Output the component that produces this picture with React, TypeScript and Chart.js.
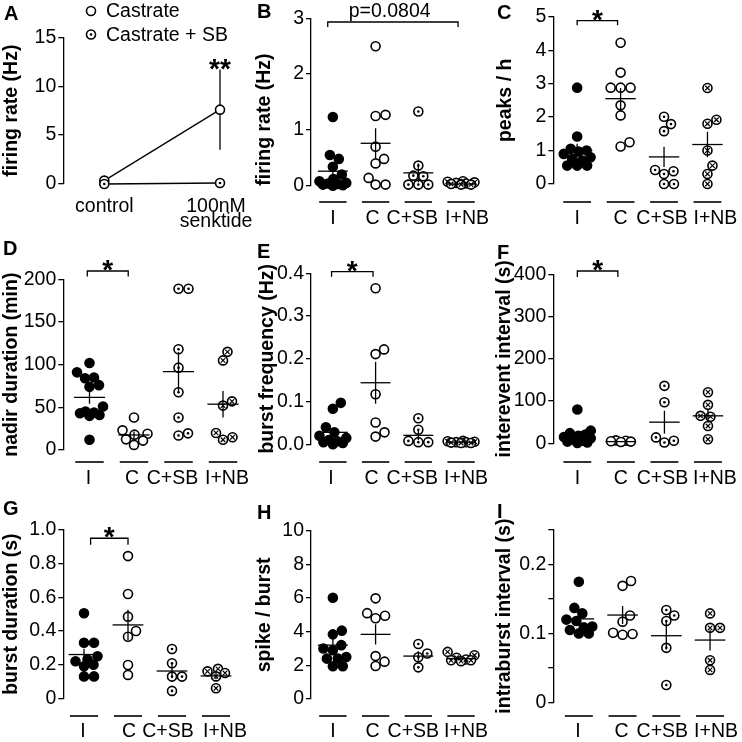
import React, { useEffect, useRef } from "react";
import { Chart, registerables } from "chart.js";

Chart.register(...registerables);

const FONT = "'Liberation Sans', Arial, Helvetica, sans-serif";

// ---------------- Panel A ----------------
const A_CATEGORIES: (string | string[])[] = ["control", ["100nM", "senktide"]];
const A_CASTRATE = [0.35, 7.6];
const A_CASTRATE_SEM = [0, 4.1];
const A_CASTRATE_SB = [0, 0.1];
const A_TICKS = [0, 5, 10, 15];
const A_TICK_LABELS = ["0", "5", "10", "15"];
const A_LEGEND = ["Castrate", "Castrate + SB"];

// ---------------- Groups ----------------
const GROUPS = ["I", "C", "C+SB", "I+NB"];

// B: firing rate (Hz)
const B_I = [1.23, 0.55, 0.48, 0.34, 0.2, 0.12, 0.08, 0.05, 0.04, 0.03, 0.02, 0.01, 0.0];
const B_C = [2.5, 1.27, 1.25, 0.7, 0.48, 0.4, 0.14, 0.02, 0.02];
const B_CSB = [1.33, 0.36, 0.18, 0.17, 0.02, 0.02, 0.02];
const B_INB = [0.08, 0.07, 0.06, 0.05, 0.04, 0.03, 0.02, 0.02];
const B_MEAN = [0.26, 0.76, 0.23, 0.03];
const B_SEM = [0.1, 0.27, 0.17, 0.01];
const B_TICKS = [0, 1, 2, 3];
const B_TICK_LABELS = ["0", "1", "2", "3"];

// C: peaks / h
const C_I = [2.88, 1.42, 1.05, 1.0, 0.97, 0.9, 0.8, 0.75, 0.7, 0.55, 0.55, 0.55];
const C_C = [4.22, 3.33, 2.88, 2.88, 2.88, 2.35, 2.05, 1.25, 1.12];
const C_CSB = [2.01, 1.79, 1.58, 0.42, 0.38, 0.3, 0.0, 0.0];
const C_INB = [2.87, 1.92, 1.8, 1.0, 0.55, 0.3, 0.0];
const C_MEAN = [1.0, 2.55, 0.81, 1.18];
const C_SEM = [0.2, 0.32, 0.3, 0.38];
const C_TICKS = [0, 1, 2, 3, 4, 5];
const C_TICK_LABELS = ["0", "1", "2", "3", "4", "5"];

// D: nadir duration (min)
const D_I = [102, 91, 85, 84, 76, 74, 51, 45, 44, 43, 41, 40, 12];
const D_C = [38, 23, 19, 18, 12.5, 11, 6];
const D_CSB = [189, 189, 118, 96.5, 67.6, 38, 19.5, 17];
const D_INB = [115, 105, 57, 52, 20, 15, 12];
const D_MEAN = [61.7, 17.6, 91.8, 53.7];
const D_SEM = [7.5, 4.2, 23, 15.5];
const D_TICKS = [0, 50, 100, 150, 200];
const D_TICK_LABELS = ["0", "50", "100", "150", "200"];

// E: burst frequency (Hz)
const E_I = [0.097, 0.083, 0.04, 0.028, 0.02, 0.015, 0.01, 0.007, 0.005, 0.003, 0.0];
const E_C = [0.365, 0.222, 0.211, 0.117, 0.051, 0.028, 0.018];
const E_CSB = [0.061, 0.034, 0.008, 0.005, 0.005];
const E_INB = [0.008, 0.007, 0.006, 0.005, 0.005, 0.004, 0.003, 0.003];
const E_MEAN = [0.028, 0.144, 0.021, 0.005];
const E_SEM = [0.01, 0.049, 0.011, 0.001];
const E_TICKS = [0, 0.1, 0.2, 0.3, 0.4];
const E_TICK_LABELS = ["0.0", "0.1", "0.2", "0.3", "0.4"];

// F: interevent interval (s)
const F_I = [80, 30, 24, 21, 18, 15, 12, 9, 6, 4, 2, 1];
const F_C = [7, 6, 5, 4, 3];
const F_CSB = [136, 97, 14, 6, 2];
const F_INB = [121, 91, 65, 63, 41, 9.5];
const F_MEAN = [18, 4, 50, 65];
const F_SEM = [6, 1, 27, 16];
const F_TICKS = [0, 100, 200, 300, 400];
const F_TICK_LABELS = ["0", "100", "200", "300", "400"];

// G: burst duration (s)
const G_I = [0.505, 0.33, 0.33, 0.25, 0.23, 0.22, 0.2, 0.19, 0.13, 0.13];
const G_C = [0.845, 0.62, 0.485, 0.4, 0.366, 0.198, 0.139];
const G_CSB = [0.293, 0.208, 0.129, 0.129, 0.044];
const G_INB = [0.175, 0.16, 0.15, 0.13, 0.06];
const G_MEAN = [0.26, 0.436, 0.162, 0.133];
const G_SEM = [0.035, 0.09, 0.043, 0.02];
const G_TICKS = [0, 0.2, 0.4, 0.6, 0.8, 1.0];
const G_TICK_LABELS = ["0", "0.2", "0.4", "0.6", "0.8", "1.0"];

// H: spike / burst
const H_I = [6.02, 4.06, 3.84, 3.2, 3.0, 2.9, 2.5, 2.4, 2.4, 1.95, 1.95];
const H_C = [5.98, 5.1, 4.95, 4.8, 2.55, 2.22, 1.96];
const H_CSB = [3.27, 2.7, 2.48, 1.88];
const H_INB = [2.8, 2.6, 2.45, 2.35, 2.3, 2.3, 2.25];
const H_MEAN = [3.2, 3.84, 2.55, 2.4];
const H_SEM = [0.38, 0.6, 0.28, 0.08];
const H_TICKS = [0, 2, 4, 6, 8, 10];
const H_TICK_LABELS = ["0", "2", "4", "6", "8", "10"];

// I: intraburst interval (s)
const I_I = [0.175, 0.137, 0.129, 0.12, 0.118, 0.11, 0.109, 0.105, 0.1, 0.1];
const I_C = [0.176, 0.169, 0.126, 0.117, 0.101, 0.099, 0.098];
const I_CSB = [0.134, 0.126, 0.118, 0.079, 0.025];
const I_INB = [0.129, 0.108, 0.108, 0.061, 0.047];
const I_MEAN = [0.121, 0.1266, 0.0966, 0.0903];
const I_SEM = [0.007, 0.013, 0.02, 0.015];
const I_TICKS = [0, 0.05, 0.1, 0.15, 0.2, 0.25];
const I_TICK_LABELS = ["0", "", "0.1", "", "0.2", ""];

// ---------------- Layout (page pixels) ----------------
type Note = { x: number; y: number; text: string; size: number; bold: boolean; gap: number; lift: number };
type Bracket = { x0: number; x1: number; y: number; dropPx: number };
type Panel = {
  letter: string;
  letterPos: [number, number];
  canvas: [number, number, number, number];
  area: { left: number; top: number; bottom: number; right: number };
  cat0: number;
  step: number;
  underlineY?: number;
  labelY: number;
  labelLineHeight: number;
  labelShift: number[];
  cats: (string | string[])[];
  yMax: number;
  yTicks: number[];
  yLabels: string[];
  title: string;
  titlePad: number;
  titleAlign: "center" | "start";
  groups?: number[][];
  means?: number[];
  sems?: number[];
  bracket?: Bracket;
  notes: Note[];
};

const star = (x: number, y: number, text = "*"): Note => ({ x, y, text, size: 28, bold: true, gap: 9, lift: 0.6 });

const PANELS: Panel[] = [
  {
    letter: "A", letterPos: [4, 14], canvas: [0, 0, 258, 240],
    area: { left: 63.3, top: 37.3, bottom: 184, right: 245 }, cat0: 104.3, step: 115.7,
    labelY: 206.5, labelLineHeight: 0.78, labelShift: [0, -4], cats: A_CATEGORIES,
    yMax: 15, yTicks: A_TICKS, yLabels: A_TICK_LABELS, title: "firing rate (Hz)", titlePad: 0, titleAlign: "center",
    notes: [{ ...star(1, 12.6, "**"), gap: 0 }],
  },
  {
    letter: "B", letterPos: [257, 12.5], canvas: [243, 0, 249, 240],
    area: { left: 311, top: 18.3, bottom: 185.7, right: 487 }, cat0: 333, step: 43,
    underlineY: 202, labelY: 219, labelLineHeight: 1.2, labelShift: [0, -3, -6, 6], cats: GROUPS,
    yMax: 3, yTicks: B_TICKS, yLabels: B_TICK_LABELS, title: "firing rate (Hz)", titlePad: 10, titleAlign: "start",
    groups: [B_I, B_C, B_CSB, B_INB], means: B_MEAN, sems: B_SEM,
    bracket: { x0: -0.12, x1: 2.93, y: 2.934, dropPx: 5 },
    notes: [{ x: 1.33, y: 2.934, text: "p=0.0804", size: 19.5, bold: false, gap: 12, lift: 0.36 }],
  },
  {
    letter: "C", letterPos: [497, 13.5], canvas: [490, 0, 252, 240],
    area: { left: 553.3, top: 16.7, bottom: 184, right: 737 }, cat0: 577.3, step: 43.7,
    underlineY: 202, labelY: 219, labelLineHeight: 1.2, labelShift: [0, 0, -2, 8], cats: GROUPS,
    yMax: 5, yTicks: C_TICKS, yLabels: C_TICK_LABELS, title: "peaks / h", titlePad: 4, titleAlign: "center",
    groups: [C_I, C_C, C_CSB, C_INB], means: C_MEAN, sems: C_SEM,
    bracket: { x0: 0, x1: 0.93, y: 4.88, dropPx: 4.5 },
    notes: [star(0.47, 4.88)],
  },
  {
    letter: "D", letterPos: [3, 249], canvas: [0, 240, 258, 245],
    area: { left: 63.3, top: 279.3, bottom: 450, right: 245 }, cat0: 89.5, step: 44.5,
    underlineY: 462, labelY: 478.5, labelLineHeight: 1.2, labelShift: [-1, -2, -6, 4], cats: GROUPS,
    yMax: 200, yTicks: D_TICKS, yLabels: D_TICK_LABELS, title: "nadir duration (min)", titlePad: 0, titleAlign: "center",
    groups: [D_I, D_C, D_CSB, D_INB], means: D_MEAN, sems: D_SEM,
    bracket: { x0: -0.05, x1: 0.87, y: 209.7, dropPx: 5.5 },
    notes: [star(0.41, 209.7)],
  },
  {
    letter: "E", letterPos: [257, 252.5], canvas: [243, 240, 249, 245],
    area: { left: 311, top: 273.3, bottom: 444.3, right: 487 }, cat0: 333, step: 43,
    underlineY: 462, labelY: 478.5, labelLineHeight: 1.2, labelShift: [-2, -4, -6, 5], cats: GROUPS,
    yMax: 0.4, yTicks: E_TICKS, yLabels: E_TICK_LABELS, title: "burst frequency (Hz)", titlePad: 13, titleAlign: "center",
    groups: [E_I, E_C, E_CSB, E_INB], means: E_MEAN, sems: E_SEM,
    bracket: { x0: -0.03, x1: 0.94, y: 0.4037, dropPx: 5 },
    notes: [star(0.455, 0.4037)],
  },
  {
    letter: "F", letterPos: [497, 253], canvas: [490, 240, 252, 245],
    area: { left: 553.3, top: 274.3, bottom: 443.3, right: 737 }, cat0: 577.5, step: 43.8,
    underlineY: 462, labelY: 478.5, labelLineHeight: 1.2, labelShift: [0, 0, -2, 7], cats: GROUPS,
    yMax: 400, yTicks: F_TICKS, yLabels: F_TICK_LABELS, title: "interevent interval (s)", titlePad: 3, titleAlign: "center",
    groups: [F_I, F_C, F_CSB, F_INB], means: F_MEAN, sems: F_SEM,
    bracket: { x0: 0, x1: 0.93, y: 407.8, dropPx: 6 },
    notes: [star(0.47, 407.8)],
  },
  {
    letter: "G", letterPos: [3, 509], canvas: [0, 485, 258, 257],
    area: { left: 63.3, top: 530, bottom: 698.3, right: 245 }, cat0: 84, step: 44,
    underlineY: 716, labelY: 732, labelLineHeight: 1.2, labelShift: [-1, 1, -4, 9], cats: GROUPS,
    yMax: 1, yTicks: G_TICKS, yLabels: G_TICK_LABELS, title: "burst duration (s)", titlePad: 0, titleAlign: "center",
    groups: [G_I, G_C, G_CSB, G_INB], means: G_MEAN, sems: G_SEM,
    bracket: { x0: 0.15, x1: 1.0, y: 0.951, dropPx: 6.5 },
    notes: [star(0.575, 0.951)],
  },
  {
    letter: "H", letterPos: [257, 513], canvas: [243, 485, 249, 257],
    area: { left: 311, top: 530.7, bottom: 699, right: 487 }, cat0: 333, step: 43,
    underlineY: 716, labelY: 732, labelLineHeight: 1.2, labelShift: [0, -3, -5, 5], cats: GROUPS,
    yMax: 10, yTicks: H_TICKS, yLabels: H_TICK_LABELS, title: "spike / burst", titlePad: 10, titleAlign: "center",
    groups: [H_I, H_C, H_CSB, H_INB], means: H_MEAN, sems: H_SEM,
    notes: [],
  },
  {
    letter: "I", letterPos: [497, 512], canvas: [490, 485, 252, 257],
    area: { left: 553.3, top: 530, bottom: 702.3, right: 737 }, cat0: 579, step: 44,
    underlineY: 716, labelY: 732, labelLineHeight: 1.2, labelShift: [-1, -1, -4, 6], cats: GROUPS,
    yMax: 0.25, yTicks: I_TICKS, yLabels: I_TICK_LABELS, title: "intraburst interval (s)", titlePad: 3, titleAlign: "center",
    groups: [I_I, I_C, I_CSB, I_INB], means: I_MEAN, sems: I_SEM,
    notes: [],
  },
];

const TICK_SIZE = 19.5;
const TITLE_SIZE = 19.5;
const MARK_R = 4.5;
const MARK_W = 1.6;
const KINDS = ["filled", "open", "dot", "cross"];

// Beeswarm layout: horizontal pixel offsets so markers do not overlap
function swarm(values: number[], pxPerUnit: number): number[] {
  const D = 9.6;
  const MAX = 13.5;
  const cands: number[] = [0];
  for (let k = 0.5; k <= MAX + 1e-9; k += 0.5) cands.push(k, -k);
  const order = values.map((_, i) => i).sort((a, b) => values[a] - values[b]);
  const placed: { x: number; y: number }[] = [];
  const out = values.map(() => 0);
  for (const i of order) {
    const y = values[i] * pxPerUnit;
    let best = 0;
    let bestOv = Infinity;
    for (const c of cands) {
      let ov = -Infinity;
      for (const q of placed) ov = Math.max(ov, D - Math.hypot(c - q.x, y - q.y));
      if (ov <= 0) {
        best = c;
        break;
      }
      if (ov < bestOv - 1e-6) {
        bestOv = ov;
        best = c;
      }
    }
    placed.push({ x: best, y });
    out[i] = best;
  }
  return out;
}

function lineDs(pts: { x: number; y: number }[], order: number, width = 1.3) {
  return {
    type: "scatter",
    data: pts,
    showLine: true,
    borderColor: "#000",
    borderWidth: width,
    pointRadius: 0,
    pointHoverRadius: 0,
    fill: false,
    clip: false,
    order,
    tension: 0,
  };
}

function markerDatasets(pts: { x: number; y: number }[], kind: string, order: number): any[] {
  const base = {
    type: "scatter",
    data: pts,
    showLine: false,
    clip: false,
    pointStyle: "circle",
    pointRadius: MARK_R,
    pointHoverRadius: MARK_R,
    pointBorderWidth: MARK_W,
    pointBorderColor: "#000",
    pointBackgroundColor: kind === "filled" ? "#000" : "#fff",
    order,
  };
  const out: any[] = [base];
  if (kind === "dot") {
    out.push({
      ...base,
      pointRadius: 1.3,
      pointHoverRadius: 1.3,
      pointBorderWidth: 0,
      pointBackgroundColor: "#000",
      order: order - 0.5,
    });
  }
  if (kind === "cross") {
    out.push({
      ...base,
      pointStyle: "crossRot",
      pointRadius: 3.2,
      pointHoverRadius: 3.2,
      pointBorderWidth: 1.2,
      order: order - 0.5,
    });
  }
  return out;
}

function buildConfig(p: Panel): any {
  const [cl, ct, cw, ch] = p.canvas;
  const xmin = (p.area.left - p.cat0) / p.step;
  const xmax = (p.area.right - p.cat0) / p.step;
  const pxu = (p.area.bottom - p.area.top) / p.yMax;
  const datasets: any[] = [];

  if (p.groups && p.means && p.sems) {
    p.groups.forEach((vals, g) => {
      const offs = swarm(vals, pxu);
      const pts = vals.map((v, k) => ({ x: g + offs[k] / p.step, y: v }));
      datasets.push(...markerDatasets(pts, KINDS[g], 3));
      const m = p.means![g];
      const s = p.sems![g];
      datasets.push(lineDs([{ x: g - 0.35, y: m }, { x: g + 0.35, y: m }], 1));
      datasets.push(lineDs([{ x: g, y: m - s }, { x: g, y: m + s }], 1));
    });
  } else {
    // Panel A: two connected series + SEM bar
    const sbPts = A_CASTRATE_SB.map((v, i) => ({ x: i, y: v }));
    const cPts = A_CASTRATE.map((v, i) => ({ x: i, y: v }));
    datasets.push(lineDs(sbPts, 6));
    datasets.push(lineDs(cPts, 6));
    A_CASTRATE.forEach((v, i) => {
      if (A_CASTRATE_SEM[i] > 0)
        datasets.push(lineDs([{ x: i, y: v - A_CASTRATE_SEM[i] }, { x: i, y: v + A_CASTRATE_SEM[i] }], 6));
    });
    datasets.push(...markerDatasets(cPts, "open", 4));
    datasets.push(...markerDatasets(sbPts, "dot", 2));
  }

  if (p.bracket) {
    const b = p.bracket;
    const d = b.dropPx / pxu;
    datasets.push(
      lineDs(
        [
          { x: b.x0, y: b.y - d },
          { x: b.x0, y: b.y },
          { x: b.x1, y: b.y },
          { x: b.x1, y: b.y - d },
        ],
        0
      )
    );
  }

  const deco = {
    id: "deco",
    afterDraw(chart: any) {
      const ctx: CanvasRenderingContext2D = chart.ctx;
      const xs = chart.scales.x;
      const ys = chart.scales.y;
      ctx.save();
      ctx.fillStyle = "#000";
      ctx.strokeStyle = "#000";
      if (p.underlineY != null) {
        ctx.lineWidth = 1.6;
        p.cats.forEach((_, g) => {
          ctx.beginPath();
          ctx.moveTo(xs.getPixelForValue(g - 0.32), p.underlineY! - ct);
          ctx.lineTo(xs.getPixelForValue(g + 0.32), p.underlineY! - ct);
          ctx.stroke();
        });
      }
      for (const n of p.notes) {
        ctx.font = `${n.bold ? "bold " : ""}${n.size}px ${FONT}`;
        ctx.textAlign = "center";
        ctx.textBaseline = "alphabetic";
        const cy = ys.getPixelForValue(n.y) - n.gap;
        ctx.fillText(n.text, xs.getPixelForValue(n.x), cy + n.lift * n.size);
      }
      ctx.font = `bold 20px ${FONT}`;
      ctx.textAlign = "left";
      ctx.textBaseline = "middle";
      ctx.fillText(p.letter, p.letterPos[0] - cl, p.letterPos[1] - ct);
      if (p.letter === "A") {
        A_LEGEND.forEach((t, i) => {
          const y = 11 + i * 23.5;
          ctx.beginPath();
          ctx.arc(91, y, MARK_R, 0, Math.PI * 2);
          ctx.fillStyle = "#fff";
          ctx.fill();
          ctx.lineWidth = MARK_W;
          ctx.stroke();
          ctx.fillStyle = "#000";
          if (i === 1) {
            ctx.beginPath();
            ctx.arc(91, y, 1.3, 0, Math.PI * 2);
            ctx.fill();
          }
          ctx.font = `${TICK_SIZE}px ${FONT}`;
          ctx.textBaseline = "middle";
          ctx.fillText(t, 106, y + 1);
        });
      }
      ctx.restore();
    },
  };

  const lh = TICK_SIZE * p.labelLineHeight;
  return {
    type: "scatter",
    data: { datasets },
    plugins: [deco],
    options: {
      responsive: false,
      animation: false,
      devicePixelRatio: 1,
      events: [],
      layout: { padding: { left: 0, top: p.area.top - ct, right: cl + cw - p.area.right, bottom: 0 } },
      plugins: { legend: { display: false }, tooltip: { enabled: false } },
      scales: {
        x: {
          type: "linear",
          position: "bottom",
          min: xmin,
          max: xmax,
          grid: { display: false, drawTicks: false },
          border: { display: false },
          afterBuildTicks: (s: any) => {
            s.ticks = p.cats.map((_, i) => ({ value: i + (p.labelShift[i] || 0) / p.step }));
          },
          afterFit: (s: any) => {
            s.height = ch - (p.area.bottom - ct);
            s.paddingLeft = 0;
            s.paddingRight = 0;
            s.paddingTop = 0;
            s.paddingBottom = 0;
          },
          ticks: {
            autoSkip: false,
            maxRotation: 0,
            minRotation: 0,
            padding: p.labelY - p.area.bottom - lh / 2,
            color: "#000",
            font: { family: FONT, size: TICK_SIZE, lineHeight: p.labelLineHeight },
            callback: (_v: any, i: number) => p.cats[i],
          },
        },
        y: {
          type: "linear",
          position: "left",
          min: 0,
          max: p.yMax,
          afterBuildTicks: (s: any) => {
            s.ticks = p.yTicks.map((v) => ({ value: v }));
          },
          afterFit: (s: any) => {
            s.width = p.area.left - cl;
            s.paddingLeft = 0;
            s.paddingRight = 0;
            s.paddingTop = 0;
            s.paddingBottom = 0;
          },
          grid: { display: true, drawOnChartArea: false, drawTicks: true, tickLength: 5, color: "#000", lineWidth: 1.3 },
          border: { display: true, color: "#000", width: 1.3 },
          ticks: {
            autoSkip: false,
            padding: 2,
            color: "#000",
            font: { family: FONT, size: TICK_SIZE },
            callback: (_v: any, i: number) => p.yLabels[i],
          },
          title: {
            display: true,
            text: p.title,
            color: "#000",
            align: p.titleAlign,
            font: { family: FONT, size: TITLE_SIZE, weight: "bold" },
            padding: { top: p.titlePad, bottom: 0 },
          },
        },
      },
    },
  };
}

export default function App() {
  const refs = useRef<(HTMLCanvasElement | null)[]>([]);
  useEffect(() => {
    const charts = PANELS.map((p, i) => new Chart(refs.current[i]!, buildConfig(p)));
    return () => charts.forEach((c) => c.destroy());
  }, []);
  return (
    <div style={{ position: "absolute", left: 0, top: 0, width: 742, height: 742, background: "#fff", overflow: "hidden" }}>
      {PANELS.map((p, i) => (
        <canvas
          key={p.letter}
          ref={(el) => {
            refs.current[i] = el;
          }}
          width={p.canvas[2]}
          height={p.canvas[3]}
          style={{ position: "absolute", left: p.canvas[0], top: p.canvas[1], width: p.canvas[2], height: p.canvas[3] }}
        />
      ))}
    </div>
  );
}
